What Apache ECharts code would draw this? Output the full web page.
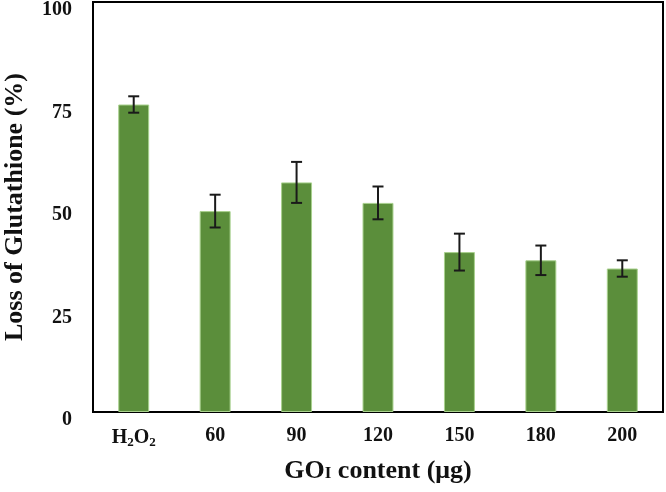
<!DOCTYPE html>
<html>
<head>
<meta charset="utf-8">
<script src="https://cdn.jsdelivr.net/npm/echarts@6/dist/echarts.min.js"></script>
<style>
  html, body { margin: 0; padding: 0; background: #fff; }
  #chart { width: 666px; height: 492px; }
</style>
</head>
<body>
<div id="chart"></div>
<script>
// data
const categories = ['H2O2', '60', '90', '120', '150', '180', '200'];
const lossValues = [75, 49, 56, 51, 39, 37, 35];
const lossErrors = [2, 4, 5, 4, 4.5, 3.6, 2];
const yTicks = [0, 25, 50, 75, 100];

const serif = "'Liberation Serif', 'Times New Roman', serif";
const myChart = echarts.init(document.getElementById('chart'), null, { renderer: 'canvas' });

// error bar points: [index, low, high]
const errData = lossValues.map((v, i) => [i, v - lossErrors[i], v + lossErrors[i]]);

const option = {
    animation: false,
    grid: {
        left: 93,
        right: 3,
        top: 2,
        bottom: 80,
        outerBoundsMode: 'none',
        containLabel: false,
        show: true,
        borderColor: '#000',
        borderWidth: 2
    },
    xAxis: {
        type: 'category',
        data: categories,
        axisLine: { show: true, lineStyle: { color: '#000', width: 2 } },
        axisTick: { show: false },
        axisLabel: {
            interval: 0,
            hideOverlap: false,
            margin: 14,
            color: '#111',
            fontFamily: serif,
            fontWeight: 'bold',
            fontSize: 20,
            formatter: (val) => val === 'H2O2' ? '{n|H}{s|2}{n|O}{s|2}' : val,
            rich: {
                n: { fontFamily: serif, fontWeight: 'bold', fontSize: 20, color: '#111' },
                s: { fontFamily: serif, fontWeight: 'bold', fontSize: 13, color: '#111', padding: [10, 0, 0, 0] }
            }
        },
        name: '{a|GO}{b|I}{a| content (μg)}',
        nameLocation: 'middle',
        nameGap: 46,
        nameTextStyle: {
            rich: {
                a: { fontFamily: serif, fontWeight: 'bold', fontSize: 26, color: '#111' },
                b: { fontFamily: serif, fontWeight: 'bold', fontSize: 17, color: '#111', padding: [6, 0, 0, 0] }
            }
        }
    },
    yAxis: {
        type: 'value',
        min: yTicks[0],
        max: yTicks[yTicks.length - 1],
        interval: 25,
        splitLine: { show: false },
        axisLine: { show: true, lineStyle: { color: '#000', width: 2 } },
        axisTick: { show: false },
        axisLabel: {
            margin: 21,
            color: '#111',
            fontFamily: serif,
            fontWeight: 'bold',
            fontSize: 20,
            verticalAlign: 'top',
            lineHeight: 16
        },
        name: 'Loss of Glutathione (%)',
        nameLocation: 'middle',
        nameGap: 65,
        nameTextStyle: {
            fontFamily: serif,
            fontWeight: 'bold',
            fontSize: 26,
            color: '#111'
        }
    },
    series: [
        {
            name: 'Loss',
            type: 'bar',
            data: lossValues,
            barWidth: '38%',
            itemStyle: {
                color: '#5b8e3b',
                borderColor: '#a9d18e',
                borderWidth: 1
            }
        },
        {
            name: 'Error',
            type: 'custom',
            data: errData,
            z: 10,
            renderItem: (params, api) => {
                const x = api.value(0);
                const lo = api.coord([x, api.value(1)]);
                const hi = api.coord([x, api.value(2)]);
                const cap = 5.5;
                const style = { stroke: '#1a1a1a', lineWidth: 2 };
                return {
                    type: 'group',
                    children: [
                        { type: 'line', shape: { x1: hi[0], y1: hi[1], x2: lo[0], y2: lo[1] }, style: style },
                        { type: 'line', shape: { x1: hi[0] - cap, y1: hi[1], x2: hi[0] + cap, y2: hi[1] }, style: style },
                        { type: 'line', shape: { x1: lo[0] - cap, y1: lo[1], x2: lo[0] + cap, y2: lo[1] }, style: style }
                    ]
                };
            }
        }
    ]
};

myChart.setOption(option);
window.addEventListener('resize', myChart.resize);
</script>
</body>
</html>
